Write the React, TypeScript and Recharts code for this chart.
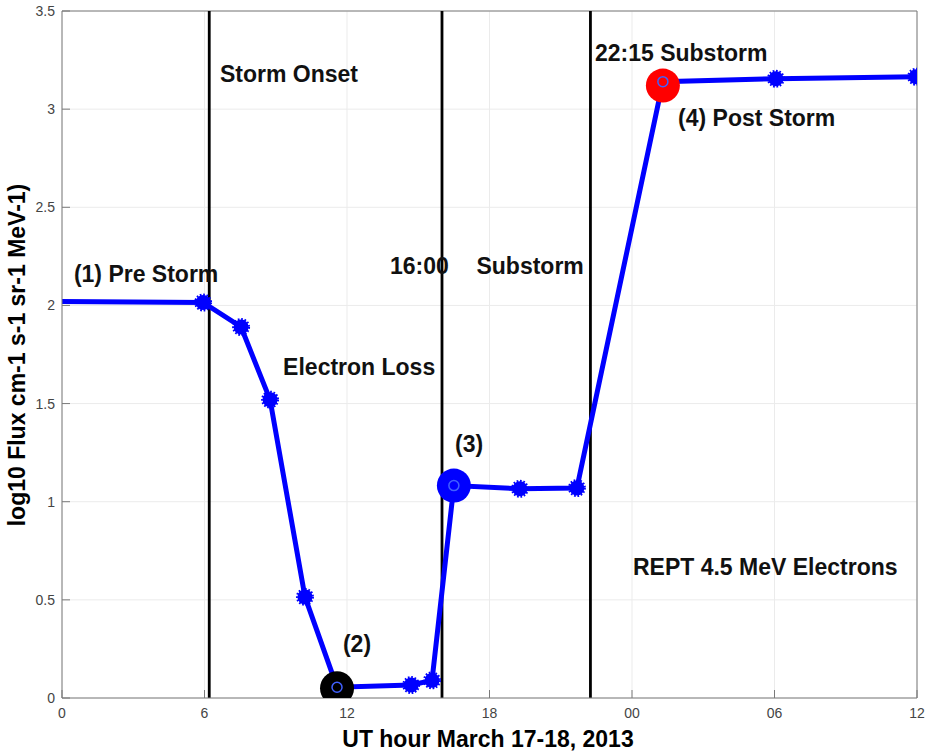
import React from 'react';
import {
  ComposedChart,
  Line,
  Scatter,
  XAxis,
  YAxis,
  CartesianGrid,
  ReferenceLine,
  ReferenceDot,
  Label,
} from 'recharts';

// REPT 4.5 MeV electron flux, March 17-18 2013
const hours = [0, 5.94, 7.54, 8.76, 10.23, 11.58, 14.7, 15.58, 16.5, 19.28, 21.68, 25.3, 30.06, 35.96];
const flux = [2.02, 2.015, 1.89, 1.52, 0.515, 0.055, 0.066, 0.09, 1.082, 1.066, 1.07, 3.14, 3.155, 3.165];

const fluxData = hours.map((h, i) => ({ hour: h, flux: flux[i] }));

// big highlighted points (2), (3), (4)
const highlightHours = [11.58, 16.5, 25.3];
const highlightFlux = [0.05, 1.082, 3.12];
const highlightColors = ['#000000', '#0000ff', '#ff0000'];

// event lines: storm onset, 16:00 substorm, 22:15 substorm
const eventHours = [6.2, 16, 22.25];

const xTicks = [0, 6, 12, 18, 24, 30, 36];
const xTickLabels = ['0', '6', '12', '18', '00', '06', '12'];
const yTicks = [0, 0.5, 1, 1.5, 2, 2.5, 3, 3.5];

const noteTexts = [
  'Storm Onset',
  '(1) Pre Storm',
  'Electron Loss',
  '16:00',
  'Substorm',
  '(2)',
  '(3)',
  '22:15 Substorm',
  '(4) Post Storm',
  'REPT 4.5 MeV Electrons',
];
const noteHours = [6.65, 0.5, 9.31, 13.81, 17.45, 11.83, 16.55, 22.44, 25.94, 24.04];
const noteFlux = [3.138, 2.117, 1.648, 2.158, 2.158, 0.235, 1.255, 3.245, 2.913, 0.625];

const FONT = '"Liberation Sans", Arial, Helvetica, sans-serif';
const BLUE = '#0000ff';

const StarDot: React.FC<any> = (props) => {
  const { cx, cy, index } = props;
  if (index === 0 || cx == null) return null;
  if (highlightHours.includes(hours[index])) {
    return <circle cx={cx} cy={cy} r={5} fill="none" stroke="#4060ff" strokeWidth={1.5} />;
  }
  return (
    <circle
      cx={cx}
      cy={cy}
      r={7.5}
      fill={BLUE}
      stroke={BLUE}
      strokeWidth={3}
      strokeDasharray="1.6 1.6"
    />
  );
};

const renderYLabel = () => (
  <text
    x={0}
    y={0}
    transform="translate(25, 355) rotate(-90)"
    textAnchor="middle"
    fontFamily={FONT}
    fontWeight="bold"
    fontSize={23}
    fill="#000"
  >
    log10 Flux cm-1 s-1 sr-1 MeV-1)
  </text>
);

const renderXLabel = () => (
  <text
    x={488}
    y={747}
    textAnchor="middle"
    fontFamily={FONT}
    fontWeight="bold"
    fontSize={23}
    fill="#000"
  >
    UT hour March 17-18, 2013
  </text>
);

const App: React.FC = () => {
  return (
    <div style={{ position: 'absolute', left: 0, top: 0, background: '#fff' }}>
      <ComposedChart
        width={929}
        height={755}
        margin={{ top: 11, right: 12, left: 0, bottom: 0 }}
      >
        <CartesianGrid stroke="#ebebeb" strokeWidth={1} />
        <XAxis
          dataKey="hour"
          type="number"
          domain={[0, 36]}
          ticks={xTicks}
          tickFormatter={(v) => xTickLabels[xTicks.indexOf(v)] ?? ''}
          height={57}
          stroke="#7a7a7a"
          tickSize={-8}
          tickMargin={18}
          tick={{ fill: '#444', fontSize: 14, fontFamily: FONT }}
          allowDataOverflow
        >
          <Label content={renderXLabel} />
        </XAxis>
        <YAxis
          type="number"
          domain={[0, 3.5]}
          ticks={yTicks}
          width={62}
          stroke="#7a7a7a"
          tickSize={-8}
          tickMargin={15}
          tick={{ fill: '#444', fontSize: 14, fontFamily: FONT }}
          allowDataOverflow
        >
          <Label content={renderYLabel} />
        </YAxis>

        <ReferenceLine y={3.5} stroke="#7a7a7a" strokeWidth={1} />
        <ReferenceLine x={36} stroke="#7a7a7a" strokeWidth={1} />
        {eventHours.map((h) => (
          <ReferenceLine key={h} x={h} stroke="#000" strokeWidth={2.8} />
        ))}

        {highlightHours.map((h, i) => (
          <Scatter
            key={h}
            data={[{ hour: h, flux: highlightFlux[i] }]}
            dataKey="flux"
            isAnimationActive={false}
            shape={(p: any) => <circle cx={p.cx} cy={p.cy} r={17} fill={highlightColors[i]} />}
          />
        ))}

        <Line
          data={fluxData}
          dataKey="flux"
          type="linear"
          stroke={BLUE}
          strokeWidth={5}
          dot={<StarDot />}
          activeDot={false}
          isAnimationActive={false}
        />

        {noteTexts.map((t, i) => (
          <ReferenceDot
            key={t}
            x={noteHours[i]}
            y={noteFlux[i]}
            r={0}
            shape={(p: any) => (
              <text
                x={p.cx}
                y={p.cy}
                fontFamily={FONT}
                fontWeight="bold"
                fontSize={23}
                fill="#111"
              >
                {t}
              </text>
            )}
          />
        ))}
      </ComposedChart>
    </div>
  );
};

export default App;
